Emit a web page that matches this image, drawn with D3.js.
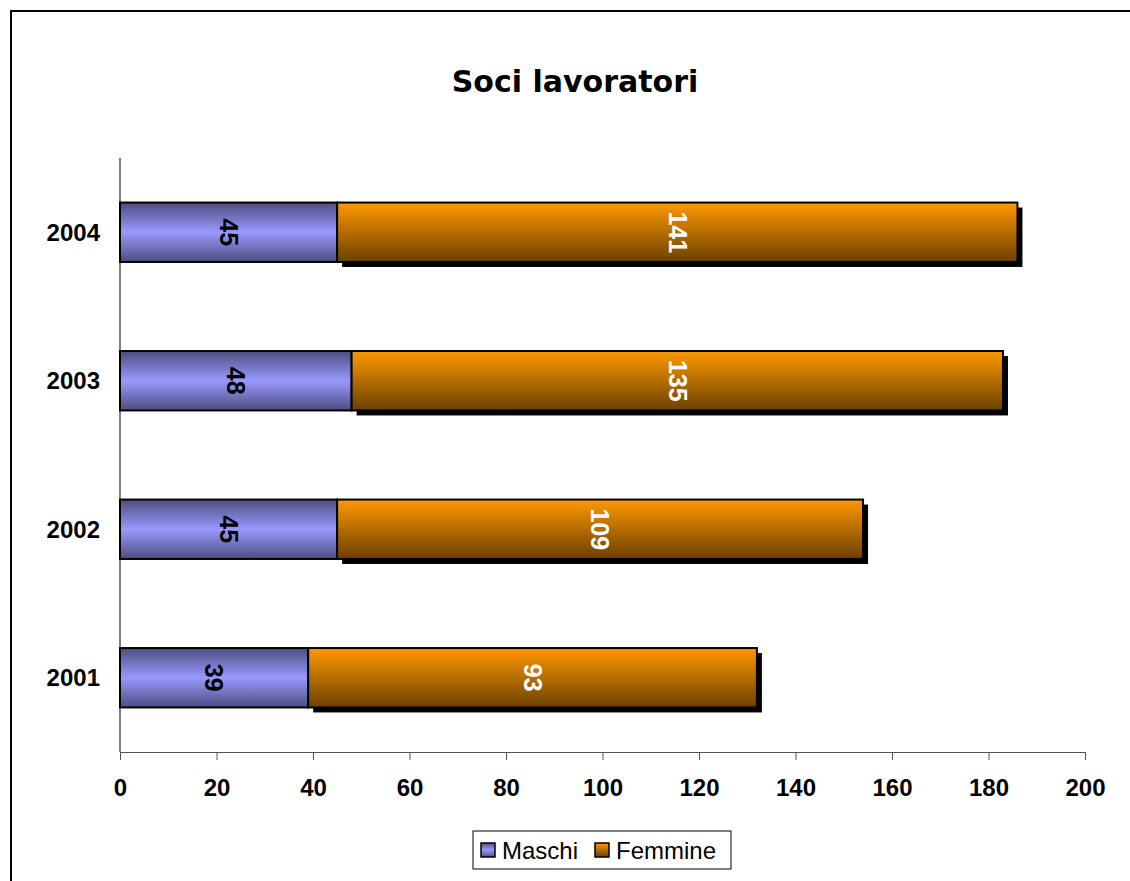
<!DOCTYPE html>
<html>
<head>
<meta charset="utf-8">
<script src="https://cdn.jsdelivr.net/npm/d3@7"></script>
<style>
  body { margin: 0; background: white; }
  svg { display: block; }
</style>
</head>
<body>
<svg id="chart"></svg>
<script>
// data
const years = ["2004", "2003", "2002", "2001"]
const maschi = [45, 48, 45, 39]
const femmine = [141, 135, 109, 93]
const xTicks = [0, 20, 40, 60, 80, 100, 120, 140, 160, 180, 200]

const svg = d3.select("svg#chart")
              .attr("width", 1130)
              .attr("height", 881)

// outer frame
svg.append("rect")
   .attr("x", 11)
   .attr("y", 11)
   .attr("width", 1140)
   .attr("height", 900)
   .attr("fill", "white")
   .attr("stroke", "black")
   .attr("stroke-width", 2)

// gradients
const defs = svg.append("defs")
const gm = defs.append("linearGradient").attr("id", "gm")
               .attr("x1", 0).attr("y1", 0).attr("x2", 0).attr("y2", 1)
gm.append("stop").attr("offset", "0%").attr("stop-color", "#4d4d80")
gm.append("stop").attr("offset", "50%").attr("stop-color", "#9999ff")
gm.append("stop").attr("offset", "100%").attr("stop-color", "#4d4d80")
const gf = defs.append("linearGradient").attr("id", "gf")
               .attr("x1", 0).attr("y1", 0).attr("x2", 0).attr("y2", 1)
gf.append("stop").attr("offset", "0%").attr("stop-color", "#ff9900")
gf.append("stop").attr("offset", "100%").attr("stop-color", "#6b4000")

// title
svg.append("text")
   .attr("x", 575)
   .attr("y", 92)
   .attr("text-anchor", "middle")
   .attr("font-family", "'DejaVu Sans', sans-serif")
   .attr("font-weight", "bold")
   .attr("font-size", 30)
   .text("Soci lavoratori")

// scales
const x = d3.scaleLinear().domain([0, 200]).range([120, 1085])
const y = d3.scaleBand().domain(years).range([158, 752]).paddingInner(0.6).paddingOuter(0.3)

// x axis
const xAxis = svg.append("g")
   .attr("transform", "translate(0,752)")
   .call(d3.axisBottom(x).tickValues(xTicks).tickSize(8).tickSizeOuter(0).tickPadding(19))
xAxis.select(".domain").attr("stroke", "#555").attr("stroke-width", 1.2)
xAxis.selectAll(".tick line").attr("stroke", "#555")
xAxis.selectAll("text")
     .attr("font-family", "Arial, 'Liberation Sans', sans-serif")
     .attr("font-weight", "bold")
     .attr("font-size", 24)
     .attr("fill", "black")

// y axis
svg.append("line")
   .attr("x1", 120).attr("x2", 120)
   .attr("y1", 158).attr("y2", 752)
   .attr("stroke", "black")
   .attr("stroke-width", 1)

svg.selectAll(".ylab")
   .data(years)
   .enter().append("text")
   .attr("x", 100)
   .attr("y", d => y(d) + y.bandwidth() / 2)
   .attr("dy", "0.35em")
   .attr("text-anchor", "end")
   .attr("font-family", "Arial, 'Liberation Sans', sans-serif")
   .attr("font-weight", "bold")
   .attr("font-size", 24)
   .text(d => d)

// femmine shadow
svg.selectAll(".fshadow")
   .data(years)
   .enter().append("rect")
   .attr("x", (d, i) => x(maschi[i]) + 5)
   .attr("y", d => y(d) + 5)
   .attr("width", (d, i) => x(maschi[i] + femmine[i]) - x(maschi[i]))
   .attr("height", y.bandwidth())
   .attr("fill", "black")

// maschi bars
svg.selectAll(".mbar")
   .data(years)
   .enter().append("rect")
   .attr("x", x(0))
   .attr("y", d => y(d))
   .attr("width", (d, i) => x(maschi[i]) - x(0))
   .attr("height", y.bandwidth())
   .attr("fill", "url(#gm)")
   .attr("stroke", "black")
   .attr("stroke-width", 2)

// femmine bars
svg.selectAll(".fbar")
   .data(years)
   .enter().append("rect")
   .attr("x", (d, i) => x(maschi[i]))
   .attr("y", d => y(d))
   .attr("width", (d, i) => x(maschi[i] + femmine[i]) - x(maschi[i]))
   .attr("height", y.bandwidth())
   .attr("fill", "url(#gf)")
   .attr("stroke", "black")
   .attr("stroke-width", 2)

// value labels, rotated
function barLabel(vals, start, color) {
    years.forEach((d, i) => {
        const cx = x(start[i] + vals[i] / 2)
        const cy = y(d) + y.bandwidth() / 2
        svg.append("text")
           .attr("transform", "translate(" + cx + "," + cy + ") rotate(90)")
           .attr("text-anchor", "middle")
           .attr("dy", "0.35em")
           .attr("font-family", "Arial, 'Liberation Sans', sans-serif")
           .attr("font-weight", "bold")
           .attr("font-size", 25)
           .attr("fill", color)
           .text(vals[i])
    })
}
barLabel(maschi, [0, 0, 0, 0], "black")
barLabel(femmine, maschi, "white")

// legend
svg.append("rect")
   .attr("x", 473)
   .attr("y", 831)
   .attr("width", 258)
   .attr("height", 38)
   .attr("fill", "white")
   .attr("stroke", "black")
   .attr("stroke-width", 1)

const legend = [["Maschi", "url(#gm)", 481], ["Femmine", "url(#gf)", 595]]
legend.forEach(l => {
    svg.append("rect")
       .attr("x", l[2])
       .attr("y", 843)
       .attr("width", 14)
       .attr("height", 14)
       .attr("fill", l[1])
       .attr("stroke", "black")
       .attr("stroke-width", 1.5)
    svg.append("text")
       .attr("x", l[2] + 21)
       .attr("y", 851)
       .attr("dy", "0.35em")
       .attr("font-family", "Arial, 'Liberation Sans', sans-serif")
       .attr("font-size", 24)
       .text(l[0])
})
</script>
</body>
</html>
